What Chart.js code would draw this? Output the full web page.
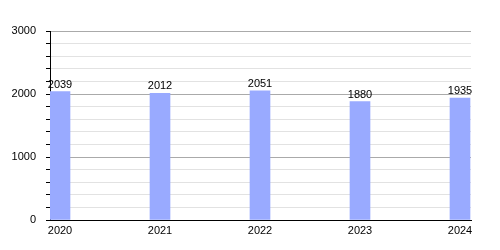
<!DOCTYPE html>
<html><head><meta charset="utf-8">
<style>html,body{margin:0;padding:0;background:#fff}#wrap{width:500px;height:250px}</style>
<script src="https://cdn.jsdelivr.net/npm/chart.js@4/dist/chart.umd.min.js"></script>
</head><body><div id="wrap"><canvas id="c" width="500" height="250"></canvas></div>
<script>
const years = [2020, 2021, 2022, 2023, 2024];
const values = [2039, 2012, 2051, 1880, 1935];
const yTickLabels = [0, 1000, 2000, 3000];

const FONT = '"Liberation Sans", Arial, sans-serif';

const valueLabels = {
  id: 'valueLabels',
  afterDatasetsDraw(chart) {
    const ctx = chart.ctx;
    const meta = chart.getDatasetMeta(0);
    ctx.save();
    ctx.font = '11px ' + FONT;
    ctx.fillStyle = '#000';
    ctx.textAlign = 'center';
    ctx.textBaseline = 'alphabetic';
    meta.data.forEach((bar, i) => {
      ctx.fillText(String(values[i]), bar.x, bar.y - 4);
    });
    ctx.restore();
  }
};

new Chart(document.getElementById('c'), {
  type: 'bar',
  data: {
    datasets: [{
      data: years.map((y, i) => ({x: y, y: values[i]})),
      backgroundColor: '#99aaff',
      borderWidth: 0,
      barThickness: 20
    }]
  },
  options: {
    responsive: false,
    animation: false,
    layout: {padding: {top: 31, right: 29, left: 0, bottom: 0}},
    plugins: {legend: {display: false}, tooltip: {enabled: false}},
    scales: {
      x: {
        type: 'linear',
        offset: false,
        min: years[0] - 0.1,
        max: years[years.length - 1] + 0.11,
        afterBuildTicks: s => { s.ticks = years.map(v => ({value: v})); },
        afterFit: s => { s.height = 30; },
        grid: {display: false, drawTicks: false, offset: false},
        border: {display: true, color: '#000', width: 1},
        ticks: {
          color: '#000', font: {size: 11, family: FONT}, padding: 4,
          maxRotation: 0, autoSkip: false,
          callback: v => String(v)
        }
      },
      y: {
        min: 0, max: 3000,
        ticks: {
          stepSize: 200, autoSkip: false,
          color: '#000', font: {size: 11, family: FONT}, padding: 10,
          callback: v => yTickLabels.includes(v) ? String(v) : ''
        },
        afterFit: s => { s.width = 50; },
        grid: {
          color: c => (c.tick.value % 1000 === 0) ? '#aaaaaa' : '#e2e2e2',
          tickColor: '#000',
          tickLength: 4
        },
        border: {display: true, color: '#000', width: 1}
      }
    }
  },
  plugins: [valueLabels]
});
</script></body></html>
